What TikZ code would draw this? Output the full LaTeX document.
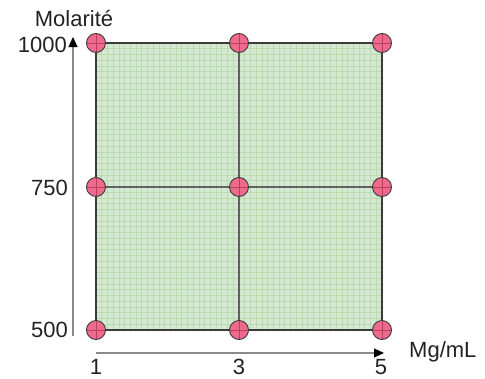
\documentclass[tikz,border=0pt]{standalone}
\usepackage{fontspec}
\setmainfont{Liberation Sans}
\usetikzlibrary{arrows.meta}
\definecolor{cellfill}{HTML}{D5E8D4}
\definecolor{gridc}{HTML}{BADBAC}
\definecolor{ptfill}{HTML}{EE6A8C}
\definecolor{ptline}{HTML}{B8405E}
\definecolor{edge}{HTML}{3A3A3A}
\definecolor{axisc}{HTML}{8A8A8A}
\definecolor{txt}{HTML}{222222}
\tikzset{
  pt/.style={circle,draw=edge,fill=ptfill,line width=0.9pt,minimum size=19pt,inner sep=0pt,
    path picture={\draw[ptline,line width=0.8pt] (path picture bounding box.north) -- (path picture bounding box.south) (path picture bounding box.west) -- (path picture bounding box.east);}},
  lbl/.style={font=\fontsize{22}{25}\selectfont,text=txt,inner sep=0pt},
  axisline/.style={draw=axisc,line width=1.2pt,-{Triangle[length=10pt,width=9pt,fill=black,color=black]}},
}
\begin{document}
\begin{tikzpicture}[x=1pt,y=-1pt]
\useasboundingbox (0,0) rectangle (485,378);
% filled square with fine grid
\fill[cellfill] (96,43) rectangle (382,330);
\begin{scope}
\clip (96,43) rectangle (382,330);
\foreach \i in {0,...,50} {
  \draw[gridc,line width=0.7pt] ({96+\i*5.72},43) -- ({96+\i*5.72},330);
  \draw[gridc,line width=0.7pt] (96,{43+\i*5.74}) -- (382,{43+\i*5.74});
}
\end{scope}
% corner/grid coordinates
\coordinate (p11) at (96,330);
\coordinate (p31) at (239,330);
\coordinate (p51) at (382,330);
\coordinate (p12) at (96,187);
\coordinate (p32) at (239,187);
\coordinate (p52) at (382,187);
\coordinate (p13) at (96,43);
\coordinate (p33) at (239,43);
\coordinate (p53) at (382,43);
\draw[edge!80,line width=1.2pt] (p33) -- (p31) (p12) -- (p52);
\draw[edge,line width=1.4pt] (p11) rectangle (p53);
% axes
\coordinate (yb) at (73,336);
\coordinate (yt) at (73,37);
\coordinate (xl) at (96,353);
\coordinate (xr) at (384,353);
\draw[axisline] (yb) -- (yt);
\draw[axisline] (xl) -- (xr);
% points
\foreach \p in {p11,p31,p51,p12,p32,p52,p13,p33,p53} {
  \node[pt] at (\p) {};
}
% labels
\node[lbl] (ylab) at (74,19) {Molarité};
\node[lbl,anchor=east] (y1000) at (67,45) {1000};
\node[lbl,anchor=east] (y750) at (68,188) {750};
\node[lbl,anchor=east] (y500) at (68,330) {500};
\node[lbl,anchor=base] (x1) at (96,374) {1};
\node[lbl,anchor=base] (x3) at (239,374) {3};
\node[lbl,anchor=base] (x5) at (381,374) {5};
\node[lbl,anchor=west] (xlab) at (409,352) {Mg/mL};
\end{tikzpicture}
\end{document}
